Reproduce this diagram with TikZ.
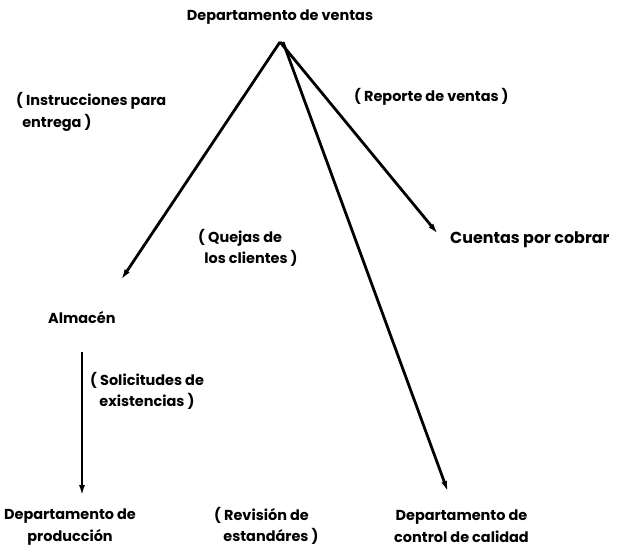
\documentclass[tikz,border=0pt]{standalone}
\usepackage{fontspec}
\setmainfont{Poppins}
\usetikzlibrary{arrows.meta}

\begin{document}
\begin{tikzpicture}[
  x=1bp, y=-1bp,
  lbl/.style={font=\fontsize{14.5}{21.5}\selectfont\bfseries, inner sep=0pt, align=left},
  flow/.style={-{Latex[length=11pt,width=6pt]}, line width=2.8pt}
]
\useasboundingbox (0,0) rectangle (624,546);
% departments
\node[lbl] (ventas) at (280,17) {Departamento de ventas};
\node[lbl, anchor=west] (almacen) at (48,318) {Almacén};
\node[lbl, anchor=west, font=\fontsize{16}{21}\selectfont\bfseries] (cuentas) at (450,240) {Cuentas por cobrar};
\node[lbl, anchor=west, align=center] (produccion) at (4,527) {Departamento de\\producción};
\node[lbl, anchor=west, align=center] (calidad) at (394,526) {Departamento de\\control de calidad};
% flow labels
\node[lbl, anchor=west] (instr) at (16,112) {( Instrucciones para\\\ \ entrega )};
\node[lbl, anchor=west] (reporte) at (354,97) {( Reporte de ventas )};
\node[lbl, anchor=west] (quejas) at (198,248) {( Quejas de\\\ \ los clientes )};
\node[lbl, anchor=west] (solic) at (90,391) {( Solicitudes de\\\ \ \ existencias )};
\node[lbl, anchor=west] (revision) at (214,526) {( Revisión de\\\ \ \ estandáres )};
% arrow ends
\coordinate (apex) at (280,42);
\coordinate (almTop) at (82,352);
\coordinate (tipAlm) at (121,280);
\coordinate (tipCue) at (438,234);
\coordinate (tipCal) at (448,492);
\coordinate (tipPro) at (82,496);
\draw[flow] (apex) -- (tipAlm);
\draw[flow] (apex) -- (tipCue);
\draw[flow] ([xshift=3]apex) -- (tipCal);
\draw[flow] (almTop) -- (tipPro);
\end{tikzpicture}
\end{document}
